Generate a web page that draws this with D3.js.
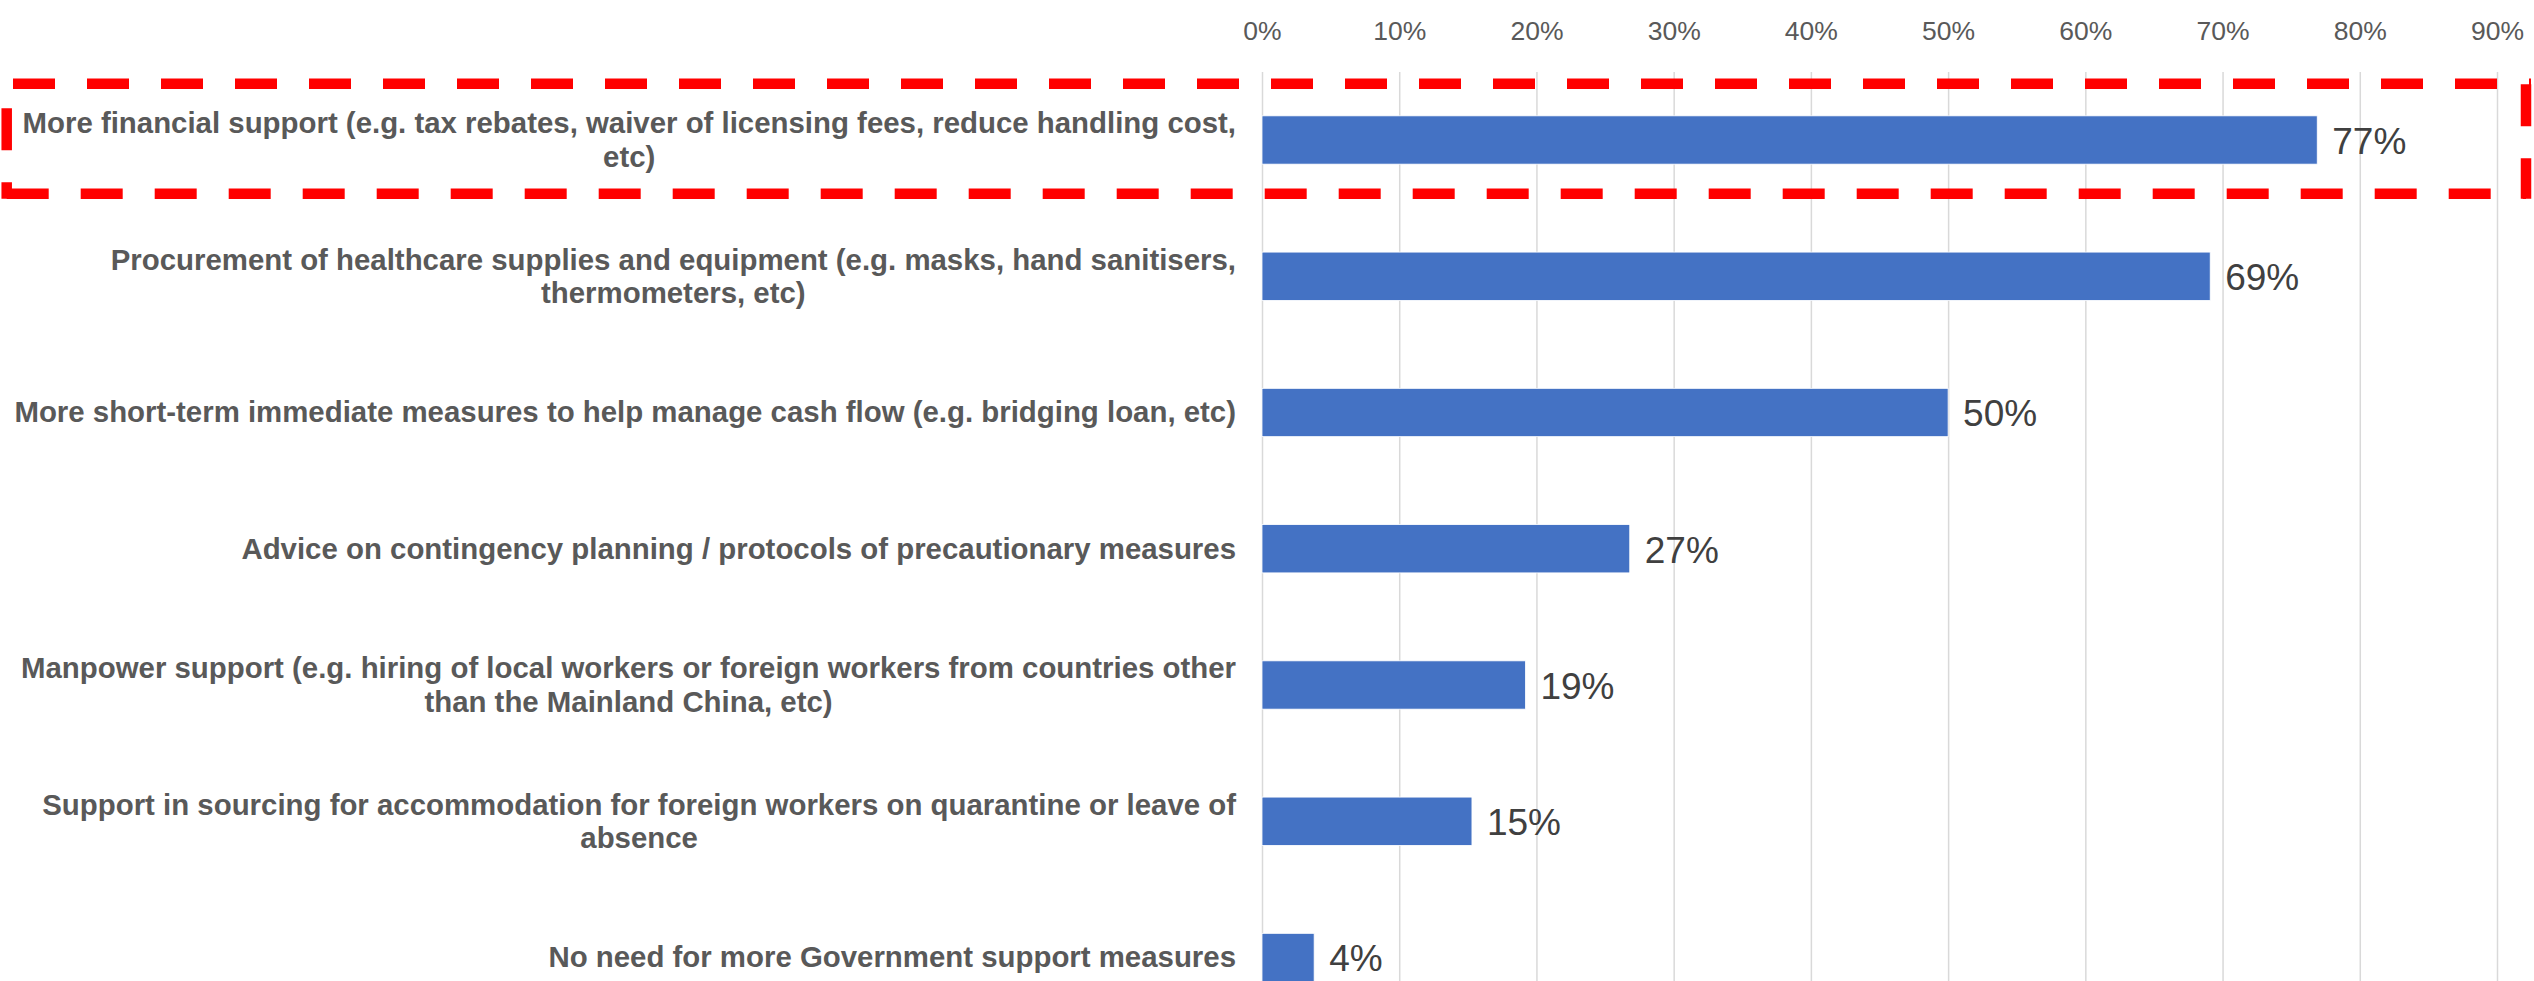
<!DOCTYPE html>
<html>
<head>
<meta charset="utf-8">
<script src="https://cdn.jsdelivr.net/npm/d3@7"></script>
<style>
  html, body { margin: 0; padding: 0; background: #fff; }
  svg { display: block; }
</style>
</head>
<body>
<div id="chart"></div>
<script>
// Data
const categories = [
  "More financial support (e.g. tax rebates, waiver of licensing fees, reduce handling cost,\netc)",
  "Procurement of healthcare supplies and equipment (e.g. masks, hand sanitisers,\nthermometers, etc)",
  "More short-term immediate measures to help manage cash flow (e.g. bridging loan, etc)",
  "Advice on contingency planning / protocols of precautionary measures",
  "Manpower support (e.g. hiring of local workers or foreign workers from countries other\nthan the Mainland China, etc)",
  "Support in sourcing for accommodation for foreign workers on quarantine or leave of\nabsence",
  "No need for more Government support measures"
];
const shares = [0.769, 0.691, 0.500, 0.268, 0.192, 0.153, 0.038];
const tickValues = [0, 0.1, 0.2, 0.3, 0.4, 0.5, 0.6, 0.7, 0.8, 0.9];
const highlighted = categories[0];

// Dimensions
const dims = {width: 2534, height: 981};
const plot = {left: 1262, right: 2497, top: 72};
const step = 136.25;
const padIn = 0.6455, padOut = 0.3218;
const labelRight = 1236;
const lineHeight = 33.3;

// Scales
const x = d3.scaleLinear()
  .domain([0, 0.9])
  .range([plot.left, plot.right]);

const y = d3.scaleBand()
  .domain(categories)
  .range([plot.top, plot.top + step * (categories.length - padIn + 2 * padOut)])
  .paddingInner(padIn)
  .paddingOuter(padOut);

// SVG
const svg = d3.select('#chart')
  .append('svg')
  .attr('width', dims.width)
  .attr('height', dims.height);

// Gridlines
const grid = svg.append('g')
  .attr('class', 'grid')
  .attr('transform', `translate(0, ${plot.top})`)
  .call(d3.axisBottom(x).tickValues(tickValues).tickSize(dims.height).tickFormat(''));
grid.select('.domain').remove();
grid.selectAll('line').attr('stroke', '#d9d9d9').attr('stroke-width', 1.5);

// Top axis labels
const axisTop = svg.append('g')
  .attr('class', 'x-axis')
  .attr('transform', `translate(0, ${plot.top})`)
  .call(d3.axisTop(x).tickValues(tickValues).tickSize(0).tickPadding(32).tickFormat(d3.format('.0%')));
axisTop.select('.domain').remove();
axisTop.selectAll('text')
  .attr('fill', '#595959')
  .style('font-family', '"Liberation Sans", Arial, sans-serif')
  .style('font-size', '26.5px');

// Bars
svg.append('g')
  .attr('class', 'bars')
  .selectAll('rect')
  .data(categories)
  .enter()
  .append('rect')
    .attr('x', x(0))
    .attr('y', d => y(d))
    .attr('width', (d, i) => x(shares[i]) - x(0))
    .attr('height', y.bandwidth())
    .attr('fill', '#4472c4')
    .attr('stroke', '#ffffff')
    .attr('stroke-width', 0.8);

// Value labels
svg.append('g')
  .attr('class', 'values')
  .selectAll('text')
  .data(categories)
  .enter()
  .append('text')
    .attr('x', (d, i) => x(shares[i]) + 15)
    .attr('y', d => y(d) + y.bandwidth() / 2 + 14)
    .attr('fill', '#404040')
    .style('font-family', '"Liberation Sans", Arial, sans-serif')
    .style('font-size', '37px')
    .text((d, i) => d3.format('.0%')(shares[i]));

// Category labels (lines centred, block right-aligned to the axis)
const labels = svg.append('g')
  .attr('class', 'labels')
  .selectAll('text')
  .data(categories)
  .enter()
  .append('text')
    .attr('text-anchor', 'middle')
    .attr('fill', '#595959')
    .style('font-family', '"Liberation Sans", Arial, sans-serif')
    .style('font-size', '29.4px')
    .style('font-weight', 'bold');

labels.each(function(d) {
  const lines = d.split('\n');
  const cy = y(d) + y.bandwidth() / 2;
  const t = d3.select(this);
  const spans = lines.map((line, i) => t.append('tspan')
    .attr('y', cy + 10 + (i - (lines.length - 1) / 2) * lineHeight)
    .text(line));
  const maxW = d3.max(spans, s => s.node().getComputedTextLength());
  spans.forEach(s => s.attr('x', labelRight - maxW / 2));
});

// Red dashed highlight around first category
const hy0 = y(highlighted) - 32;
const hy1 = y(highlighted) + y.bandwidth() + 29.5;
const hx0 = 6.7, hx1 = 2526;
const box = svg.append('g')
  .attr('class', 'highlight')
  .attr('stroke', '#ff0000')
  .attr('stroke-width', 10.5)
  .attr('stroke-dasharray', '42 32')
  .attr('fill', 'none');
box.append('line').attr('x1', hx0).attr('y1', hy0).attr('x2', hx1 + 5).attr('y2', hy0).attr('stroke-dashoffset', 67.7);
box.append('line').attr('x1', hx1).attr('y1', hy0 - 5.5).attr('x2', hx1).attr('y2', hy1 + 5).attr('stroke-dashoffset', 68);
box.append('line').attr('x1', hx0).attr('y1', hy1).attr('x2', hx1).attr('y2', hy1).attr('stroke-dashoffset', 0);
box.append('line').attr('x1', hx0).attr('y1', hy0 - 5.5).attr('x2', hx0).attr('y2', hy1 + 5).attr('stroke-dashoffset', 44);
</script>
</body>
</html>
